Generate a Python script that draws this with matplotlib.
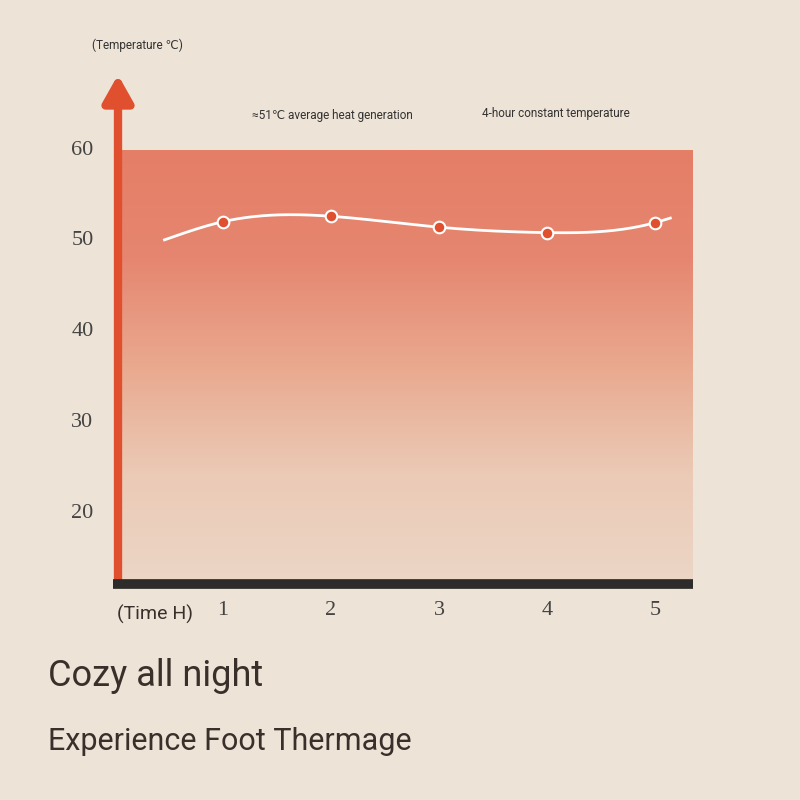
import numpy as np
import matplotlib.pyplot as plt
from matplotlib.colors import LinearSegmentedColormap

hours = [1, 2, 3, 4, 5]
temps = [52.1, 52.7, 51.5, 50.9, 52.0]
curve_x = [0.46, 1, 2, 3, 4, 5, 5.14]
curve_y = [50.1, 52.1, 52.7, 51.5, 50.9, 52.0, 52.5]
yticks = [20, 30, 40, 50, 60]

BG = "#ede3d6"
RED = "#e0502e"
SANS = ["Roboto", "DejaVu Sans"]


def natural_spline(x, y, n=300):
    x = np.asarray(x, float); y = np.asarray(y, float)
    k = len(x); h = np.diff(x)
    A = np.zeros((k, k)); b = np.zeros(k)
    A[0, 0] = A[-1, -1] = 1
    for i in range(1, k - 1):
        A[i, i - 1] = h[i - 1]; A[i, i] = 2 * (h[i - 1] + h[i]); A[i, i + 1] = h[i]
        b[i] = 3 * ((y[i + 1] - y[i]) / h[i] - (y[i] - y[i - 1]) / h[i - 1])
    c = np.linalg.solve(A, b)
    xs = np.linspace(x[0], x[-1], n); ys = np.empty(n)
    for j, t in enumerate(xs):
        i = min(np.searchsorted(x, t, side="right") - 1, k - 2)
        d = t - x[i]
        bi = (y[i + 1] - y[i]) / h[i] - h[i] * (2 * c[i] + c[i + 1]) / 3
        di = (c[i + 1] - c[i]) / (3 * h[i])
        ys[j] = y[i] + bi * d + c[i] * d ** 2 + di * d ** 3
    return xs, ys


fig = plt.figure(figsize=(8, 8), dpi=100, facecolor=BG)
ax = fig.add_axes([118 / 800, 217 / 800, 575 / 800, 433 / 800])
ax.set_xlim(0.03, 5.35)
ax.set_ylim(12.3, 60)
ax.axis("off")

cmap = LinearSegmentedColormap.from_list("g", ["#ecd6c6", "#ebcab6", "#e9a98f", "#e68670", "#e57e66"])
grad = np.linspace(0, 1, 256).reshape(-1, 1)
ax.imshow(grad, cmap=cmap, aspect="auto", origin="lower", extent=[0.03, 5.35, 12.3, 60], zorder=0)

xs, ys = natural_spline(curve_x, curve_y)
ax.plot(xs, ys, color="white", lw=2, zorder=2)
ax.scatter(hours, temps, s=70, color=RED, edgecolor="white", linewidth=1.5, zorder=3)

for v in yticks:
    ax.text(-0.3, v, str(v), ha="center", va="center", fontsize=16,
            family="Liberation Serif", color="#444")
for h in hours:
    ax.text(h, 9.3, str(h), ha="center", va="center", fontsize=16,
            family="Liberation Serif", color="#444")

# axes decorations in figure pixels
fig.add_artist(plt.Line2D([113 / 800, 693 / 800], [216 / 800, 216 / 800], color="#2e2b2b", lw=7,
                          solid_capstyle="butt"))
ax.annotate("", xy=(118 / 800, 728 / 800), xytext=(118 / 800, 214 / 800), xycoords="figure fraction",
            arrowprops=dict(arrowstyle="-|>,head_length=1.6,head_width=0.9", color=RED, lw=6))

fig.text(92 / 800, 1 - 45 / 800, "(Temperature ℃)", fontsize=8.5, family=SANS, color="#333", va="center")
fig.text(252 / 800, 1 - 115 / 800, "≈51℃ average heat generation", fontsize=8.5, family=SANS, color="#333", va="center")
fig.text(482 / 800, 1 - 114 / 800, "4-hour constant temperature", fontsize=8.5, family=SANS, color="#333", va="center")
fig.text(117 / 800, 1 - 614 / 800, "(Time H)", fontsize=14, family=SANS, color="#3a302b", va="center")
fig.text(48 / 800, 1 - 676 / 800, "Cozy all night", fontsize=26, family=SANS, color="#3a302b", va="center")
fig.text(48 / 800, 1 - 741 / 800, "Experience Foot Thermage", fontsize=22, family=SANS, color="#3a302b", va="center")

fig.savefig("out.png", dpi=100, facecolor=BG)
